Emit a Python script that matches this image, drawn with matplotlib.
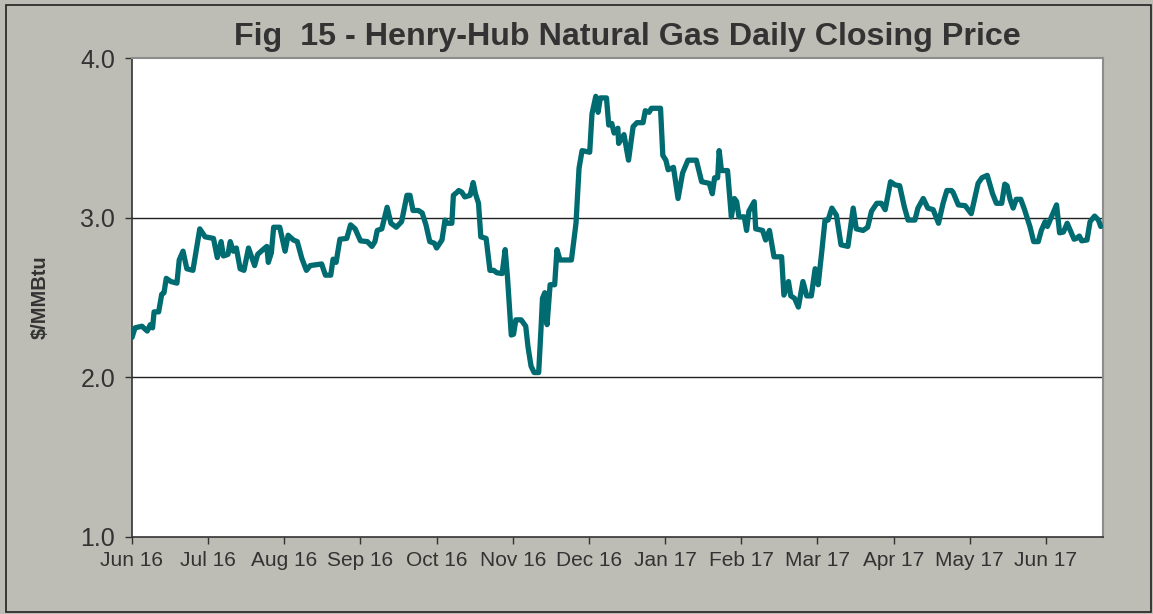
import matplotlib
matplotlib.use("Agg")
import matplotlib.pyplot as plt
from matplotlib.patches import Rectangle

plt.rcParams['font.family'] = ['Liberation Sans', 'DejaVu Sans']

# ---- data ----
# position in months since 1 Jun 2016 (axis ticks are equally spaced per month)
months_since_jun16 = [
    0.00, 0.04, 0.13, 0.20, 0.24, 0.27, 0.29, 0.35, 0.39, 0.42, 0.45, 0.51, 0.59, 0.62,
    0.67, 0.72, 0.80, 0.89, 0.96, 1.07, 1.12, 1.17, 1.20, 1.26, 1.29, 1.33, 1.37, 1.42,
    1.47, 1.53, 1.61, 1.65, 1.72, 1.77, 1.79, 1.83, 1.86, 1.94, 2.01, 2.05, 2.12,
    2.17, 2.23, 2.29, 2.34, 2.49, 2.54, 2.61, 2.64, 2.68, 2.73, 2.82, 2.87, 2.93, 3.00,
    3.09, 3.15, 3.19, 3.22, 3.28, 3.35, 3.40, 3.47, 3.54, 3.61, 3.65, 3.69, 3.76, 3.81,
    3.86, 3.91, 3.97, 4.00, 4.07, 4.11, 4.14, 4.20, 4.22, 4.27,
    4.29, 4.33, 4.37, 4.44, 4.48, 4.51, 4.55, 4.58, 4.65, 4.70, 4.75, 4.79, 4.86, 4.90,
    4.93, 4.98, 5.01, 5.04, 5.11, 5.17, 5.20, 5.24, 5.28, 5.34, 5.37, 5.39, 5.42, 5.45,
    5.49, 5.55, 5.58, 5.62, 5.77, 5.83, 5.87, 5.91, 6.01, 6.04, 6.09, 6.12, 6.15, 6.23,
    6.26, 6.30, 6.33, 6.38, 6.39,
    6.46, 6.52, 6.58, 6.63, 6.71, 6.74, 6.79, 6.82, 6.94, 6.97, 7.01, 7.04, 7.11, 7.17,
    7.23, 7.30, 7.41, 7.48, 7.58, 7.62, 7.65, 7.69, 7.71, 7.74, 7.82, 7.87, 7.91, 7.94,
    7.97, 8.04, 8.07, 8.10, 8.17, 8.19, 8.28, 8.32, 8.37, 8.43, 8.53, 8.56, 8.62,
    8.65, 8.70, 8.75, 8.81, 8.86, 8.92, 8.97, 9.01, 9.06, 9.10, 9.14, 9.19, 9.25, 9.31,
    9.40, 9.47, 9.51, 9.60, 9.66, 9.71, 9.78, 9.84, 9.89, 9.96, 10.02, 10.08, 10.14,
    10.19, 10.28, 10.32, 10.39, 10.45, 10.52, 10.59, 10.65, 10.70,
    10.76, 10.78, 10.85, 10.94, 11.02, 11.11, 11.16, 11.23, 11.30, 11.35, 11.42, 11.46,
    11.49, 11.53, 11.57, 11.61, 11.67, 11.72, 11.79, 11.84, 11.90, 11.94, 11.99, 12.02,
    12.06, 12.14, 12.18, 12.23, 12.28, 12.37, 12.40, 12.44, 12.47, 12.54, 12.58, 12.64,
    12.69, 12.72,
]
price_usd_mmbtu = [
    2.25, 2.31, 2.32, 2.29, 2.33, 2.31, 2.41, 2.41, 2.52, 2.53, 2.62, 2.60, 2.59, 2.735,
    2.79, 2.68, 2.67, 2.93, 2.88, 2.87, 2.75, 2.85, 2.76, 2.77, 2.85, 2.79, 2.81, 2.68,
    2.67, 2.81, 2.70, 2.77, 2.80, 2.82, 2.72, 2.78, 2.94, 2.94, 2.79, 2.89, 2.86,
    2.85, 2.745, 2.67, 2.70, 2.71, 2.64, 2.64, 2.74, 2.72, 2.865, 2.87, 2.955, 2.93, 2.855,
    2.85, 2.82, 2.85, 2.92, 2.93, 3.065, 2.965, 2.94, 2.975, 3.14, 3.14, 3.045, 3.045, 3.03,
    2.955, 2.85, 2.84, 2.81, 2.86, 2.985, 2.965, 2.965, 3.14, 3.16,
    3.17, 3.16, 3.13, 3.14, 3.22, 3.15, 3.09, 2.88, 2.87, 2.67, 2.67, 2.655, 2.65, 2.80,
    2.63, 2.265, 2.27, 2.36, 2.36, 2.32, 2.19, 2.07, 2.03, 2.03, 2.30, 2.495, 2.53, 2.33,
    2.58, 2.58, 2.80, 2.735, 2.735, 2.965, 3.31, 3.42, 3.41, 3.65, 3.76, 3.66, 3.75, 3.75,
    3.58, 3.59, 3.53, 3.56, 3.465,
    3.52, 3.36, 3.57, 3.595, 3.595, 3.67, 3.66, 3.685, 3.685, 3.39, 3.36, 3.30, 3.315, 3.12,
    3.28, 3.36, 3.36, 3.225, 3.215, 3.15, 3.25, 3.25, 3.42, 3.295, 3.295, 3.005, 3.12, 3.10,
    3.005, 3.005, 2.92, 3.04, 3.10, 2.93, 2.92, 2.86, 2.92, 2.755, 2.755, 2.515, 2.60,
    2.51, 2.495, 2.44, 2.60, 2.51, 2.51, 2.68, 2.58, 2.80, 2.985, 2.985, 3.06, 3.015, 2.83,
    2.82, 3.06, 2.93, 2.92, 2.94, 3.04, 3.09, 3.09, 3.05, 3.225, 3.205, 3.20, 3.07,
    2.985, 2.985, 3.06, 3.12, 3.06, 3.05, 2.965, 3.09, 3.17,
    3.17, 3.16, 3.08, 3.075, 3.025, 3.215, 3.25, 3.265, 3.15, 3.09, 3.09, 3.21,
    3.20, 3.115, 3.06, 3.115, 3.115, 3.05, 2.945, 2.85, 2.85, 2.92, 2.975, 2.945,
    2.99, 3.08, 2.905, 2.91, 2.965, 2.865, 2.87, 2.885, 2.855, 2.86, 2.975, 3.01,
    2.985, 2.945,
]
month_labels = ["Jun 16", "Jul 16", "Aug 16", "Sep 16", "Oct 16", "Nov 16", "Dec 16",
                "Jan 17", "Feb 17", "Mar 17", "Apr 17", "May 17", "Jun 17"]
y_ticks = [1.0, 2.0, 3.0, 4.0]
title = "Fig  15 - Henry-Hub Natural Gas Daily Closing Price"
y_label = "$/MMBtu"

# ---- styling ----
BG = "#BDBDB5"
LINE = "#006B70"
TXT = "#333333"

fig = plt.figure(figsize=(11.53, 6.14), dpi=100, facecolor=BG)
ax = fig.add_axes([132 / 1153, 1 - 537 / 614, (1103 - 132) / 1153, (537 - 58) / 614])
ax.set_facecolor("white")

for g in [2.0, 3.0]:
    ax.axhline(g, color="#222222", lw=1.0, zorder=1)

ax.plot(months_since_jun16, price_usd_mmbtu, color=LINE, lw=3.8,
        solid_joinstyle="round", solid_capstyle="round", zorder=3)

ax.set_xlim(0, 12.75)
ax.set_ylim(1.0, 4.0)
ax.set_xticks(range(len(month_labels)))
ax.set_xticklabels(month_labels)
ax.set_yticks(y_ticks)
ax.set_yticklabels([f"{v:.1f}" for v in y_ticks])
ax.tick_params(axis="both", direction="out", length=5, width=1, color="#333333",
               labelcolor=TXT, labelsize=15)
ax.tick_params(axis="x", pad=5)
ax.tick_params(axis="y", pad=7, labelsize=18)

for s in ["left", "bottom"]:
    ax.spines[s].set_color("#333333")
    ax.spines[s].set_linewidth(1.2)
for s in ["top", "right"]:
    ax.spines[s].set_color("#8C8C8C")
    ax.spines[s].set_linewidth(1.5)

fig.text(627 / 1153, 1 - 37 / 614, title, ha="center", va="center",
         fontsize=23.2, fontweight="bold", color=TXT)
fig.text(40 / 1153, 1 - 297 / 614, y_label, ha="center", va="center",
         rotation=90, fontsize=14.5, fontweight="bold", color=TXT)

# outer frame
fig.patches.append(Rectangle((6 / 1153, 2 / 614), 1 - 8 / 1153, 1 - 7 / 614,
                             transform=fig.transFigure, fill=False,
                             edgecolor="#222222", lw=1.2))

fig.savefig("out.png", dpi=100, facecolor=BG)
